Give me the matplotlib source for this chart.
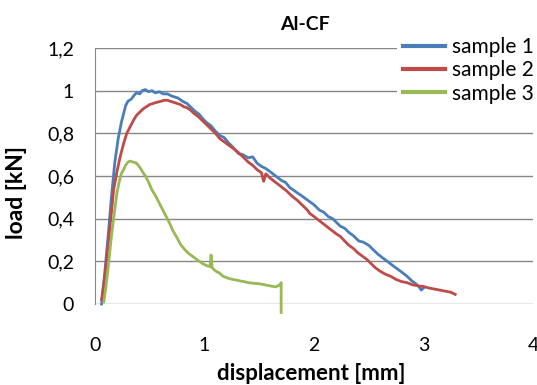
import matplotlib.pyplot as plt
from matplotlib.ticker import FuncFormatter

plt.rcParams['font.family'] = ['Lato', 'DejaVu Sans']

# sample 1 (blue)
s1_x = [0.06, 0.09, 0.12, 0.15, 0.18, 0.21, 0.24, 0.26, 0.28, 0.30, 0.33, 0.36,
        0.38, 0.41, 0.43, 0.46, 0.49, 0.52, 0.55, 0.59, 0.62, 0.66, 0.70, 0.73,
        0.76, 0.80, 0.84, 0.87, 0.91, 0.95, 0.99, 1.02, 1.06, 1.10, 1.14, 1.18,
        1.22, 1.26, 1.31, 1.35, 1.40, 1.44, 1.48, 1.52, 1.56, 1.60, 1.65, 1.70,
        1.74, 1.78, 1.81, 1.85, 1.88, 1.92, 1.96, 2.00, 2.05, 2.09, 2.13, 2.17,
        2.21, 2.24, 2.28, 2.32, 2.36, 2.41, 2.45, 2.50, 2.54, 2.58, 2.63, 2.67,
        2.72, 2.76, 2.80, 2.85, 2.89, 2.93, 2.96, 2.98, 3.00]
s1_y = [0.00, 0.15, 0.32, 0.50, 0.66, 0.77, 0.85, 0.89, 0.93, 0.95, 0.96, 0.98,
        0.99, 0.985, 1.00, 1.005, 0.995, 1.00, 0.99, 0.995, 0.985, 0.985, 0.975, 0.97,
        0.965, 0.95, 0.94, 0.925, 0.905, 0.89, 0.865, 0.85, 0.835, 0.81, 0.79, 0.78,
        0.755, 0.735, 0.705, 0.70, 0.685, 0.69, 0.66, 0.645, 0.635, 0.62, 0.60, 0.58,
        0.57, 0.545, 0.535, 0.52, 0.51, 0.495, 0.48, 0.465, 0.44, 0.43, 0.41, 0.40,
        0.38, 0.365, 0.355, 0.335, 0.32, 0.295, 0.29, 0.275, 0.255, 0.235, 0.215, 0.20,
        0.18, 0.165, 0.15, 0.13, 0.11, 0.095, 0.08, 0.065, 0.075]

# sample 2 (red)
s2_x = [0.06, 0.09, 0.12, 0.15, 0.17, 0.20, 0.23, 0.26, 0.29, 0.32, 0.35, 0.38,
        0.41, 0.44, 0.47, 0.50, 0.53, 0.56, 0.60, 0.63, 0.66, 0.69, 0.72, 0.75,
        0.78, 0.81, 0.84, 0.87, 0.90, 0.94, 0.98, 1.02, 1.06, 1.10, 1.14, 1.18,
        1.22, 1.26, 1.31, 1.35, 1.40, 1.44, 1.48, 1.52, 1.54, 1.56, 1.60, 1.65,
        1.70, 1.75, 1.80, 1.85, 1.90, 1.94, 1.96, 2.00, 2.05, 2.10, 2.15, 2.20,
        2.24, 2.28, 2.32, 2.36, 2.40, 2.44, 2.48, 2.52, 2.56, 2.60, 2.65, 2.70,
        2.75, 2.80, 2.85, 2.90, 2.95, 3.00, 3.05, 3.10, 3.15, 3.20, 3.25, 3.29]
s2_y = [0.02, 0.13, 0.28, 0.43, 0.535, 0.62, 0.69, 0.75, 0.80, 0.83, 0.86, 0.885,
        0.90, 0.915, 0.925, 0.935, 0.94, 0.945, 0.95, 0.955, 0.955, 0.95, 0.945, 0.94,
        0.935, 0.925, 0.92, 0.91, 0.895, 0.88, 0.86, 0.84, 0.82, 0.80, 0.775, 0.76,
        0.745, 0.73, 0.71, 0.69, 0.665, 0.65, 0.63, 0.615, 0.575, 0.61, 0.59, 0.57,
        0.55, 0.53, 0.505, 0.485, 0.46, 0.44, 0.425, 0.41, 0.39, 0.37, 0.35, 0.33,
        0.317, 0.295, 0.275, 0.26, 0.24, 0.225, 0.21, 0.19, 0.17, 0.155, 0.14, 0.13,
        0.115, 0.105, 0.10, 0.09, 0.085, 0.082, 0.075, 0.07, 0.065, 0.06, 0.055, 0.045]

# sample 3 (green)
s3_x = [0.08, 0.10, 0.12, 0.14, 0.16, 0.18, 0.20, 0.22, 0.24, 0.26, 0.28, 0.30,
        0.32, 0.35, 0.38, 0.41, 0.44, 0.46, 0.49, 0.52, 0.55, 0.59, 0.62, 0.65,
        0.68, 0.71, 0.75, 0.78, 0.82, 0.86, 0.90, 0.94, 0.98, 1.02, 1.05, 1.06,
        1.07, 1.10, 1.14, 1.17, 1.22, 1.26, 1.31, 1.36, 1.40, 1.45, 1.50, 1.55,
        1.60, 1.65, 1.69, 1.70, 1.70]
s3_y = [0.01, 0.08, 0.17, 0.27, 0.36, 0.44, 0.52, 0.57, 0.61, 0.63, 0.65, 0.665,
        0.67, 0.665, 0.66, 0.64, 0.615, 0.60, 0.57, 0.535, 0.51, 0.47, 0.44, 0.41,
        0.38, 0.345, 0.31, 0.28, 0.255, 0.235, 0.22, 0.205, 0.19, 0.18, 0.175, 0.23,
        0.17, 0.155, 0.144, 0.13, 0.12, 0.115, 0.11, 0.105, 0.10, 0.097, 0.095, 0.09,
        0.085, 0.08, 0.09, 0.10, -0.04]

labels = ['sample 1', 'sample 2', 'sample 3']
colors = ['#4a7ebb', '#be4b48', '#98b954']

fig = plt.figure(figsize=(5.37, 3.85), dpi=100)
ax = fig.add_axes([95 / 537, 81 / 385, 438 / 537, 256 / 385])

for xs, ys, lab, col in zip([s1_x, s2_x, s3_x], [s1_y, s2_y, s3_y], labels, colors):
    ax.plot(xs, ys, color=col, lw=2.0, label=lab, clip_on=False, zorder=3)

ax.set_xlim(0, 4)
ax.set_ylim(0, 1.2)
ax.set_xticks([0, 1, 2, 3, 4])
ax.set_yticks([0, 0.2, 0.4, 0.6, 0.8, 1.0, 1.2])
ax.yaxis.set_major_formatter(FuncFormatter(lambda v, p: ('%g' % round(v, 1)).replace('.', ',')))
ax.grid(axis='y', color='#878787', lw=1.0)
ax.set_axisbelow(True)
for side in ['top', 'right', 'bottom']:
    ax.spines[side].set_visible(False)
ax.spines['left'].set_color('#878787')
ax.tick_params(length=0, labelsize=14, colors='#000000')
ax.tick_params(axis='x', pad=24)
ax.tick_params(axis='y', pad=15)

fig.text(305 / 537, 1 - 25 / 385, 'Al-CF', ha='center', va='center',
         fontsize=14, fontweight='bold')
fig.text(17 / 537, 1 - 193 / 385, 'load [kN]', ha='center', va='center',
         rotation=90, fontsize=16.5, fontweight='bold')
fig.text(311 / 537, 1 - 374 / 385, 'displacement [mm]', ha='center', va='center',
         fontsize=16, fontweight='bold')

leg = ax.legend(loc='upper left', bbox_to_anchor=(397 / 537, 1 - 31 / 385),
                bbox_transform=fig.transFigure, fontsize=15, handlelength=2.0,
                handletextpad=0.33, labelspacing=0.15, borderaxespad=0,
                borderpad=0.3, frameon=True, fancybox=False)
leg.get_frame().set_edgecolor('none')
leg.get_frame().set_facecolor('white')
leg.get_frame().set_alpha(1)
leg.set_zorder(5)
for line in leg.get_lines():
    line.set_linewidth(3)

fig.savefig('out.png', dpi=100)
